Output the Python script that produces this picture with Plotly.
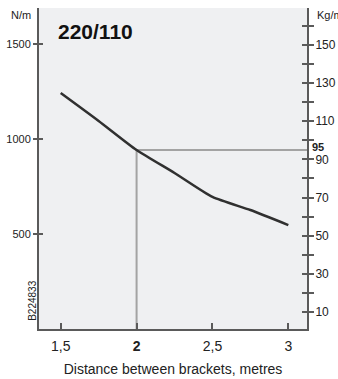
import plotly.graph_objects as go

# Data
distance_m = [1.5, 1.75, 2.0, 2.25, 2.5, 2.75, 3.0]
load_nm = [1242, 1095, 942, 821, 695, 626, 547]
x_tickvals = [1.5, 2, 2.5, 3]
x_ticktext = ["1,5", "<b>2</b>", "2,5", "3"]
left_tickvals = [500, 1000, 1500]
right_tickvals = [10, 20, 30, 40, 50, 60, 70, 80, 90, 100, 110, 120, 130, 140, 150, 160]
right_ticktext = ["10", "", "30", "", "50", "", "70", "", "90", "", "110", "", "130", "", "150", ""]
ref_distance = 2.0
ref_kgm = 95

x_range = [1.357, 3.123]
y_range = [0, 1689]
y2_range = [1.05, 169.4]

FONT = "Liberation Sans, Arial, sans-serif"
AXC = "#5a5a5a"

ref_load = load_nm[distance_m.index(ref_distance)]

fig = go.Figure()
fig.add_trace(go.Scatter(
    x=[ref_distance, ref_distance, x_range[1]], y=[0, ref_load, ref_load],
    mode="lines", line=dict(color="#a3a3a3", width=2), hoverinfo="skip", showlegend=False,
    cliponaxis=True))
fig.add_trace(go.Scatter(
    x=distance_m, y=load_nm, mode="lines", line=dict(color="#303030", width=2.5, shape="spline", smoothing=0.6),
    showlegend=False))
fig.add_trace(go.Scatter(x=[None], y=[None], yaxis="y2", showlegend=False))
fig.add_trace(go.Scatter(x=[None], y=[None], yaxis="y3", showlegend=False))
fig.add_trace(go.Scatter(x=[None], y=[None], yaxis="y4", showlegend=False))

fig.update_layout(
    width=338, height=379,
    margin=dict(l=39, r=31, t=8, b=50, autoexpand=False),
    paper_bgcolor="white", plot_bgcolor="#eff0f2",
    font=dict(family=FONT, color="#222", size=11),
    xaxis=dict(range=x_range, tickvals=x_tickvals, ticktext=x_ticktext, automargin=False,
               ticks="inside", ticklen=6, tickwidth=2, tickcolor=AXC, ticklabelstandoff=3,
               showline=True, linecolor=AXC, linewidth=2, showgrid=False, zeroline=False,
               tickfont=dict(size=14, color="#222"),
               title=dict(text="Distance between brackets, metres", font=dict(size=14, color="#222"), standoff=11)),
    yaxis=dict(range=y_range, tickvals=left_tickvals, ticks="outside", ticklen=4, tickwidth=2, automargin=False,
               tickcolor=AXC, showline=True, linecolor=AXC, linewidth=2, showgrid=False, zeroline=False,
               tickfont=dict(size=11, color="#222")),
    yaxis3=dict(range=y_range, overlaying="y", side="left", tickvals=left_tickvals, ticks="inside",
                ticklen=4, tickwidth=2, tickcolor=AXC, showticklabels=False, showline=False, automargin=False,
                showgrid=False, zeroline=False),
    yaxis2=dict(range=y2_range, overlaying="y", side="right", tickvals=right_tickvals, ticktext=right_ticktext,
                ticks="outside", ticklen=5, tickwidth=2, tickcolor=AXC, showline=True, linecolor=AXC,
                automargin=False, ticklabelstandoff=-1,
                linewidth=2, showgrid=False, zeroline=False, tickfont=dict(size=12, color="#222")),
    yaxis4=dict(range=y2_range, overlaying="y", side="right", tickvals=right_tickvals, ticks="inside",
                ticklen=5, tickwidth=2, tickcolor=AXC, showticklabels=False, showline=False, automargin=False,
                showgrid=False, zeroline=False),
    annotations=[
        dict(text="N/m", xref="paper", yref="paper", x=-0.069, y=0.978, showarrow=False,
             font=dict(size=11), xanchor="center", yanchor="middle"),
        dict(text="Kg/m", xref="paper", yref="paper", x=1.030, y=0.979, showarrow=False,
             font=dict(size=11), xanchor="left", yanchor="middle"),
        dict(text="<b>220/110</b>", xref="paper", yref="paper", x=0.062, y=0.927, showarrow=False,
             font=dict(size=21, color="#111"), xanchor="left", yanchor="middle"),
        dict(text="B224833", xref="paper", yref="paper", x=-0.027, y=0.087, showarrow=False,
             font=dict(size=10), textangle=-90, xanchor="center", yanchor="middle"),
        dict(text="<b>95</b>", xref="paper", yref="y2", x=1.010, y=ref_kgm, yshift=3, showarrow=False,
             font=dict(size=11), xanchor="left", yanchor="middle"),
    ],
)

fig.write_html("out.html", config={"displayModeBar": False},
               post_script="document.body.style.margin='0';document.body.style.padding='0';")
